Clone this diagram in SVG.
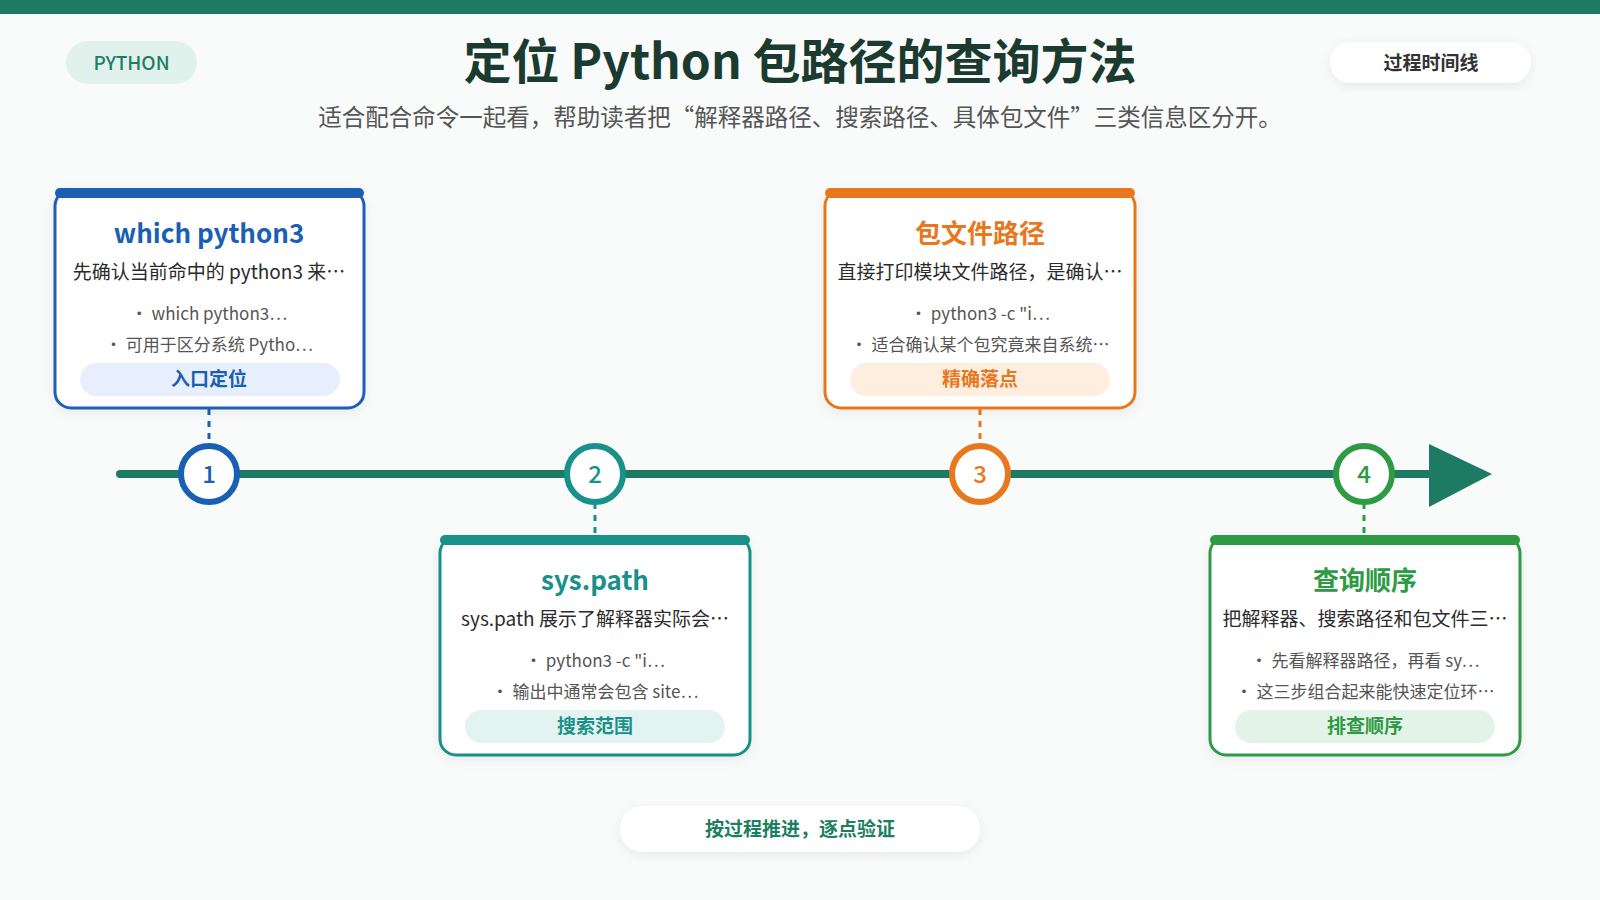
<svg xmlns="http://www.w3.org/2000/svg" width="1600" height="900" viewBox="0 0 1600 900">
<style>
text{font-family:"Noto Sans CJK SC","Noto Sans",sans-serif;text-anchor:middle}
.t{font-size:26px;font-weight:700}
.d{font-size:19px;fill:#2b2b2b}
.b{font-size:17px;fill:#555}
.g{font-size:19px;font-weight:700}
.n{font-size:24px;font-weight:500}
.card{fill:#fff;stroke-width:3}
</style>
<defs><filter id="sh" x="-10%" y="-10%" width="120%" height="130%"><feDropShadow dx="0" dy="3" stdDeviation="6" flood-color="#000" flood-opacity="0.07"/></filter></defs>
<rect width="1600" height="900" fill="#f9fbfa"/>
<rect width="1600" height="14" fill="#1d7a63"/>
<rect x="66" y="41" width="131" height="43" rx="21.5" fill="#e1f2ec"/>
<text x="131.5" y="70" style="font-size:19px;font-weight:500;fill:#1d7f62">PYTHON</text>
<text x="800" y="79" style="font-size:48px;font-weight:700;fill:#1b3b31">定位 Python 包路径的查询方法</text>
<text x="800" y="126" style="font-size:23.5px;fill:#555">适合配合命令一起看，帮助读者把“解释器路径、搜索路径、具体包文件”三类信息区分开。</text>
<rect x="1330" y="42" width="201" height="41" rx="20.5" fill="#fff" filter="url(#sh)"/>
<text x="1431" y="70" style="font-size:19px;font-weight:700;fill:#333">过程时间线</text>
<g id="connectors">
<line x1="120" y1="474" x2="1432" y2="474" stroke="#1d7a63" stroke-width="8" stroke-linecap="round"/>
<polygon points="1429,444 1492,474 1429,507" fill="#1d7a63"/>
<line x1="209" y1="409" x2="209" y2="445" stroke="#1a5fb4" stroke-width="3" stroke-dasharray="6 6"/>
<line x1="595" y1="503" x2="595" y2="536" stroke="#17918a" stroke-width="3" stroke-dasharray="6 6"/>
<line x1="980" y1="409" x2="980" y2="445" stroke="#e8771e" stroke-width="3" stroke-dasharray="6 6"/>
<line x1="1364" y1="503" x2="1364" y2="536" stroke="#2e9a44" stroke-width="3" stroke-dasharray="6 6"/>
</g>
<g id="m1"><circle cx="209" cy="474" r="28" fill="#fff" stroke="#1a5fb4" stroke-width="6"/><text x="209" y="483" class="n" fill="#1a5fb4">1</text></g>
<g id="m2"><circle cx="595" cy="474" r="28" fill="#fff" stroke="#17918a" stroke-width="6"/><text x="595" y="483" class="n" fill="#17918a">2</text></g>
<g id="m3"><circle cx="980" cy="474" r="28" fill="#fff" stroke="#e8771e" stroke-width="6"/><text x="980" y="483" class="n" fill="#e8771e">3</text></g>
<g id="m4"><circle cx="1364" cy="474" r="28" fill="#fff" stroke="#2e9a44" stroke-width="6"/><text x="1364" y="483" class="n" fill="#2e9a44">4</text></g>
<g id="card1">
<rect x="55" y="190" width="309" height="218" rx="16" class="card" stroke="#1a5fb4" filter="url(#sh)"/>
<rect x="55" y="188" width="309" height="10" rx="5" fill="#1a5fb4"/>
<text x="209" y="243" class="t" fill="#1a5fb4">which python3</text>
<text x="209" y="279" class="d">先确认当前命中的 python3 来…</text>
<text x="209" y="320" class="b">• which python3…</text>
<text x="209" y="351" class="b">• 可用于区分系统 Pytho…</text>
<rect x="80" y="363" width="260" height="33" rx="16.5" fill="#e6effb"/>
<text x="209" y="386" class="g" fill="#1a5fb4">入口定位</text>
</g>
<g id="card2">
<rect x="440" y="537" width="310" height="218" rx="16" class="card" stroke="#17918a" filter="url(#sh)"/>
<rect x="440" y="535" width="310" height="10" rx="5" fill="#17918a"/>
<text x="595" y="590" class="t" fill="#17918a">sys.path</text>
<text x="595" y="626" class="d">sys.path 展示了解释器实际会…</text>
<text x="595" y="667" class="b">• python3 -c "i…</text>
<text x="595" y="698" class="b">• 输出中通常会包含 site…</text>
<rect x="465" y="710" width="260" height="33" rx="16.5" fill="#e2f3f1"/>
<text x="595" y="733" class="g" fill="#17918a">搜索范围</text>
</g>
<g id="card3">
<rect x="825" y="190" width="310" height="218" rx="16" class="card" stroke="#e8771e" filter="url(#sh)"/>
<rect x="825" y="188" width="310" height="10" rx="5" fill="#e8771e"/>
<text x="980" y="243" class="t" fill="#e8771e">包文件路径</text>
<text x="980" y="279" class="d">直接打印模块文件路径，是确认…</text>
<text x="980" y="320" class="b">• python3 -c "i…</text>
<text x="980" y="351" class="b">• 适合确认某个包究竟来自系统…</text>
<rect x="850" y="363" width="260" height="33" rx="16.5" fill="#fdeee0"/>
<text x="980" y="386" class="g" fill="#e8771e">精确落点</text>
</g>
<g id="card4">
<rect x="1210" y="537" width="310" height="218" rx="16" class="card" stroke="#2e9a44" filter="url(#sh)"/>
<rect x="1210" y="535" width="310" height="10" rx="5" fill="#2e9a44"/>
<text x="1365" y="590" class="t" fill="#2e9a44">查询顺序</text>
<text x="1365" y="626" class="d">把解释器、搜索路径和包文件三…</text>
<text x="1365" y="667" class="b">• 先看解释器路径，再看 sy…</text>
<text x="1365" y="698" class="b">• 这三步组合起来能快速定位环…</text>
<rect x="1235" y="710" width="260" height="33" rx="16.5" fill="#e4f3e7"/>
<text x="1365" y="733" class="g" fill="#2e9a44">排查顺序</text>
</g>
<rect x="620" y="806" width="360" height="46" rx="23" fill="#fff" filter="url(#sh)"/>
<text x="800" y="836" style="font-size:19px;font-weight:700;fill:#1d7f62">按过程推进，逐点验证</text>
</svg>
